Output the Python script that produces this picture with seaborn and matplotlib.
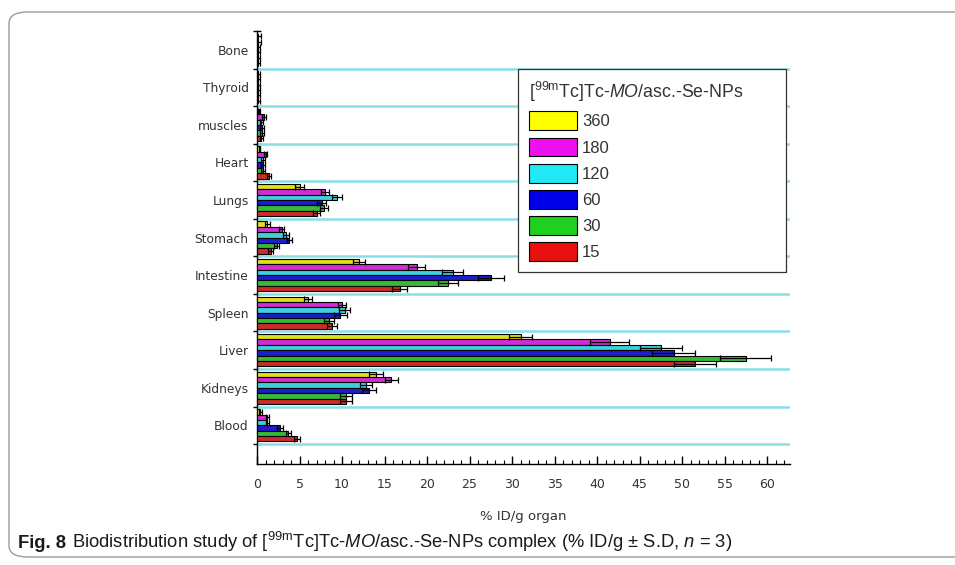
import numpy as np
import pandas as pd
import matplotlib
matplotlib.use("Agg")
import matplotlib.pyplot as plt
import seaborn as sns
from matplotlib import font_manager
from matplotlib.patches import FancyBboxPatch, Patch
from matplotlib.ticker import MultipleLocator, FixedLocator

# ---------------- data ----------------
organs = ["Bone", "Thyroid", "muscles", "Heart", "Lungs", "Stomach",
          "Intestine", "Spleen", "Liver", "Kidneys", "Blood"]
times = ["360", "180", "120", "60", "30", "15"]

t360 = [0.15, 0.1, 0.2, 0.3, 5.0, 1.2, 12.0, 6.0, 31.0, 14.0, 0.4]
t180 = [0.15, 0.1, 0.8, 1.0, 8.0, 2.9, 18.8, 10.0, 41.5, 15.8, 1.2]
t120 = [0.1, 0.1, 0.5, 0.7, 9.4, 3.4, 23.0, 10.3, 47.5, 12.8, 1.2]
t60 = [0.1, 0.1, 0.6, 0.7, 7.6, 3.8, 27.5, 9.8, 49.0, 13.2, 2.7]
t30 = [0.1, 0.1, 0.6, 0.7, 7.9, 2.3, 22.5, 8.5, 57.5, 10.5, 3.7]
t15 = [0.15, 0.1, 0.5, 1.4, 7.0, 1.6, 16.8, 8.8, 51.5, 10.5, 4.7]

sd360 = [0.3, 0.2, 0.1, 0.1, 0.5, 0.3, 0.7, 0.5, 1.4, 0.8, 0.2]
sd180 = [0.3, 0.2, 0.2, 0.2, 0.5, 0.3, 1.0, 0.5, 2.3, 0.8, 0.2]
sd120 = [0.2, 0.2, 0.2, 0.2, 0.6, 0.4, 1.2, 0.6, 2.5, 0.7, 0.2]
sd60 = [0.2, 0.2, 0.2, 0.2, 0.5, 0.3, 1.5, 0.8, 2.5, 0.8, 0.3]
sd30 = [0.2, 0.2, 0.2, 0.2, 0.5, 0.3, 1.2, 0.6, 3.0, 0.7, 0.3]
sd15 = [0.2, 0.2, 0.2, 0.2, 0.4, 0.3, 0.9, 0.6, 2.5, 0.7, 0.3]

xticks = [0, 5, 10, 15, 20, 25, 30, 35, 40, 45, 50, 55, 60]
xlabel = "% ID/g organ"
legend_title = r"[$^{\mathregular{99m}}$Tc]Tc-$\mathit{MO}$/asc.-Se-NPs"

means = [t360, t180, t120, t60, t30, t15]
sds = [sd360, sd180, sd120, sd60, sd30, sd15]
colors = ["#FFFF00", "#EE10EE", "#20E8F4", "#0000E8", "#20D020", "#E81010"]

rows = []
for t, m, s in zip(times, means, sds):
    for o, v, e in zip(organs, m, s):
        rows.append({"organ": o, "time": t, "value": v, "sd": e})
df = pd.DataFrame(rows)

# ---------------- fonts ----------------
sns.set_theme(style="white")
available = {f.name for f in font_manager.fontManager.ttflist}
narrow = "Liberation Sans Narrow" if "Liberation Sans Narrow" in available else "Liberation Sans"
plt.rcParams["font.family"] = ["Liberation Sans", "DejaVu Sans"]
plt.rcParams["mathtext.fontset"] = "custom"
plt.rcParams["mathtext.rm"] = "Liberation Sans"
plt.rcParams["mathtext.it"] = "Liberation Sans:italic"
plt.rcParams["mathtext.sf"] = narrow
plt.rcParams["mathtext.bf"] = narrow + ":italic"

W, H = 955, 565
fig = plt.figure(figsize=(W / 100, H / 100), dpi=100)
ax_left, ax_right, ax_top, ax_bot = 257, 790, 31, 464
aw, ah = ax_right - ax_left, ax_bot - ax_top
ax = fig.add_axes([ax_left / W, 1 - ax_bot / H, aw / W, ah / H])

sns.barplot(data=df, y="organ", x="value", hue="time", order=organs, hue_order=times,
            palette=dict(zip(times, colors)), orient="h", width=0.86,
            edgecolor="black", linewidth=0.8, errorbar=None, legend=False, ax=ax, zorder=3)

# error bars from bar geometry
for cont, s in zip(ax.containers, sds):
    ys = [p.get_y() + p.get_height() / 2 for p in cont.patches]
    xs = [p.get_width() for p in cont.patches]
    ax.errorbar(xs, ys, xerr=s, fmt="none", ecolor="black", elinewidth=0.9,
                capsize=2.2, capthick=0.9, zorder=4)

ax.set_xlim(0, 62.7)
ax.set_ylim(11.03, -0.5)

# cyan separators
for k in range(len(organs)):
    ax.axhline(k + 0.5, color="#8ADFE6", lw=1.8, zorder=1)

# spines / ticks
for side in ["top", "right"]:
    ax.spines[side].set_visible(False)
for side in ["left", "bottom"]:
    ax.spines[side].set_color("black")
    ax.spines[side].set_linewidth(1.0)

ax.xaxis.set_major_locator(FixedLocator(xticks))
ax.xaxis.set_minor_locator(MultipleLocator(1))
ax.tick_params(axis="x", which="major", direction="in", length=6, width=1, color="black",
               labelsize=9, labelcolor="#333333", pad=10, bottom=True)
ax.tick_params(axis="x", which="minor", direction="in", length=3, width=0.8, color="black", bottom=True)
ax.set_xticklabels([str(v) for v in xticks])
for lab in ax.get_xticklabels():
    lab.set_family(["DejaVu Sans"])

ax.yaxis.set_minor_locator(FixedLocator([k - 0.5 for k in range(len(organs) + 1)]))
ax.tick_params(axis="y", which="major", length=0, labelsize=8.8, labelcolor="#333333", pad=6)
ax.tick_params(axis="y", which="minor", direction="inout", length=6, width=1, color="black", left=True)
for lab in ax.get_yticklabels():
    lab.set_family(["DejaVu Sans"])
ax.set_ylabel("")
ax.set_xlabel(xlabel, fontsize=9.5, color="#333333", labelpad=14, family=["DejaVu Sans"])
ax.grid(False)

# legend
handles = [Patch(facecolor=c, edgecolor="black", linewidth=0.8) for c in colors]
lx0 = (518 - ax_left) / aw
lx1 = (786 - ax_left) / aw
ly_top = 1 - (69 - ax_top) / ah
leg = ax.legend(handles, times, title=legend_title, loc="upper left",
                bbox_to_anchor=(lx0, ly_top - 0.5, lx1 - lx0, 0.5), mode="expand",
                fontsize=12, title_fontsize=12.8, handlelength=2.9, handleheight=1.35,
                labelspacing=0.45, handletextpad=0.3, borderpad=0.65, borderaxespad=0,
                frameon=True, fancybox=False, framealpha=1, edgecolor="#333333",
                alignment="left")
leg.get_frame().set_linewidth(0.9)
for t in leg.get_texts():
    t.set_color("#333333")
leg.get_title().set_color("#333333")

# outer rounded frame
frame = FancyBboxPatch((9 / W, 8 / H), 1.2, (557 - 12) / H,
                       boxstyle="round,pad=0,rounding_size=0.02", transform=fig.transFigure,
                       facecolor="none", edgecolor="#9a9a9a", linewidth=1.0)
fig.patches.append(frame)

# caption
fs = 13.2
t1 = fig.text(18 / W, 1 - 548 / H, "Fig. 8", fontsize=fs, fontweight="bold",
              family=[narrow, "DejaVu Sans"], color="#1a1a1a", va="baseline")
fig.canvas.draw()
r = fig.canvas.get_renderer()
bb = t1.get_window_extent(r)
body = (r"Biodistribution study of [$^{\mathsf{99m}}$Tc]Tc-$\mathbf{MO}$/asc.-Se-NPs complex "
        r"(% ID/g ± S.D, $\mathbf{n}$ = 3)")
fig.text((bb.x1 + 6) / W, 1 - 548 / H, body, fontsize=fs, family=[narrow, "DejaVu Sans"],
         color="#1a1a1a", va="baseline")

fig.savefig("out.png", dpi=100)
